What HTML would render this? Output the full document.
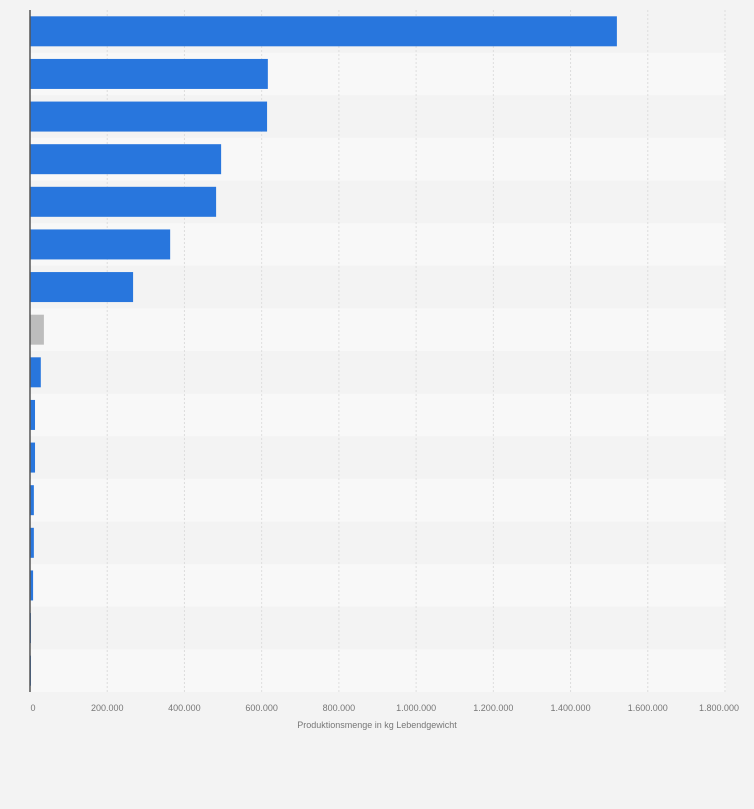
<!DOCTYPE html>
<html><head><meta charset="utf-8"><style>
body{margin:0;background:#f3f3f3;font-family:"Liberation Sans",sans-serif}
svg{display:block}
</style></head><body>
<svg id="chart" width="754" height="809" xmlns="http://www.w3.org/2000/svg">
<rect width="754" height="809" fill="#f3f3f3"/>
<g id="rows"></g><g id="grid"></g><g id="bars"></g><g id="ticks"></g>
<line x1="30" y1="10" x2="30" y2="692" stroke="#555" stroke-width="1.5"/>
<text x="377" y="728" font-size="9" fill="#777" text-anchor="middle">Produktionsmenge in kg Lebendgewicht</text>
</svg>
<script>
const categories=["c1","c2","c3","c4","c5","c6","c7","c8","c9","c10","c11","c12","c13","c14","c15","c16"];
const values=[1520000,616000,614000,495000,482000,363000,267000,36000,28000,13000,13000,10000,10000,8000,2000,1500];
const highlighted=[false,false,false,false,false,false,false,true,false,false,false,false,false,false,false,false];
const tickValues=[0,200000,400000,600000,800000,1000000,1200000,1400000,1600000,1800000];
const tickLabels=["0","200.000","400.000","600.000","800.000","1.000.000","1.200.000","1.400.000","1.600.000","1.800.000"];
const NS="http://www.w3.org/2000/svg";
const xLeft=30,xRight=725,maxV=1800000,yTop=10,yBottom=692;
const xs=v=>xLeft+v/maxV*(xRight-xLeft);
const band=(yBottom-yTop)/categories.length;
const yb=i=>yTop+i*band;
function mk(t,a,p){const e=document.createElementNS(NS,t);for(const k in a)e.setAttribute(k,a[k]);document.getElementById(p).appendChild(e);return e;}
categories.forEach((c,i)=>{
  const r=mk('rect',{x:xLeft,y:yb(i),width:xRight-xLeft+1,height:band,fill:i%2?'#f8f8f8':'#f3f3f3'},'rows');
  
  
});
tickValues.forEach((v,i)=>{
  const g=mk('line',{x1:xs(v),x2:xs(v),y1:yTop,y2:yBottom,stroke:'#ddd','stroke-dasharray':'2,2'},'grid');
  
  
  const t=mk('text',{x:xs(v)+(i==tickValues.length-1?-6:0)+(i==0?3:0),y:711,'font-size':'9',fill:'#777','text-anchor':'middle'},'ticks');
  t.textContent=tickLabels[i];
  
  
});
values.forEach((v,i)=>{
  const b=mk('rect',{x:xLeft,y:yb(i)+band/2-15,width:Math.max(1,xs(v)-xLeft),height:30,fill:highlighted[i]?'#bdbdbd':'#2876dd'},'bars');
  
  
});
</script>
</body></html>
